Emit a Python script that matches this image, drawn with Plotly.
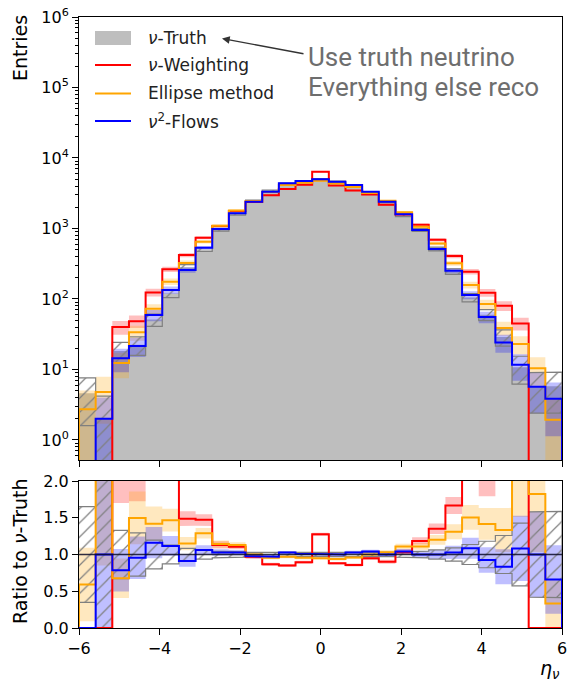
import numpy as np
import plotly.graph_objects as go

# ---- binning in eta_nu ----
N_BINS = 29
ETA_MIN, ETA_MAX = -6.0, 6.0
edges = np.linspace(ETA_MIN, ETA_MAX, N_BINS + 1)

# ---- weighted entries per bin ----
truth = [4.6, 2.0, 18.3, 22.5, 51, 120, 283, 503, 958, 1600, 2450, 3430, 4270, 4670,
         4990, 4610, 4030, 3200, 2400, 1530, 952, 512, 245, 105, 60, 29, 10.8, 5.7, 5.8]
truth_err = [3.0, 2.2, 6.0, 6.6, 10.0, 15.3, 23.5, 31.4, 43.3, 56, 69.3, 82, 91.5, 95.7,
             98.9, 95, 88.9, 79.2, 68.6, 54.8, 43.2, 31.7, 21.9, 14.3, 10.8, 7.5, 4.6, 3.3, 3.4]

nu_weighting = [0, 0, 40, 48.5, 124, 264, 421, 740, 1083, 1771, 2377, 2970, 3630, 4175,
                6362, 4057, 3454, 3040, 2165, 1576, 1127, 691, 408, 244, 123, 80, 45, 0, 0]
nu_weighting_err = [0, 0, 8.9, 9.7, 15.6, 22.7, 28.7, 38.1, 46.1, 58.9, 68.3, 76.3, 84.4, 90.5,
                    111.7, 89.2, 82.3, 77.2, 65.1, 55.6, 47.0, 36.8, 28.3, 21.9, 15.5, 12.5, 9.4, 0, 0]

ellipse = [2.73, 4.8, 12.4, 33.7, 72.4, 176, 325, 649, 1095, 1806, 2450, 3283, 4142, 4469,
           4740, 4333, 3869, 3200, 2472, 1698, 1057, 614, 321, 158, 85, 38.7, 23, 10.4, 1.94]
ellipse_err = [2.3, 3.1, 4.9, 8.1, 11.9, 18.6, 25.2, 35.7, 46.3, 59.5, 69.3, 80.2, 90.1, 93.6,
               96.4, 92.2, 87.1, 79.2, 69.6, 57.7, 45.5, 34.7, 25.1, 17.6, 12.9, 8.7, 6.7, 4.5, 1.9]

flows = [0, 2.0, 14.4, 21.5, 59.2, 134, 258, 534, 984, 1643, 2401, 3327, 4385, 4717,
         4990, 4610, 4139, 3328, 2400, 1591, 952, 512, 252, 114, 55.5, 24.2, 11.7, 5.7, 3.83]
flows_err = [0, 2.0, 5.3, 6.5, 10.8, 16.2, 22.5, 32.4, 43.9, 56.7, 68.6, 80.8, 92.7, 96.2,
             98.9, 95.1, 90.1, 80.8, 68.6, 55.8, 43.2, 31.7, 22.2, 14.9, 10.4, 6.9, 4.8, 3.3, 2.7]

legend_labels = ["<i>ν</i>-Truth", "<i>ν</i>-Weighting", "Ellipse method", "<i>ν</i><sup>2</sup>-Flows"]
y_tick_vals = [1, 10, 100, 1000, 10000, 100000, 1000000]
y_tick_text = ["10<sup>%d</sup>" % k for k in range(7)]
ratio_tick_vals = [0.0, 0.5, 1.0, 1.5, 2.0]
ratio_tick_text = ["0.0", "0.5", "1.0", "1.5", "2.0"]
x_tick_vals = [-6, -4, -2, 0, 2, 4, 6]

# ---- styling ----
W, H = 568, 682
ML, MR, MT, MB = 79, 6, 17, 54
LOG_FLOOR = 1e-3
TICK_FONT = dict(family="DejaVu Sans", size=16, color="black")
GRAY_FILL = "#bebebe"
HATCH_GRAY = "#7f7f7f"
LINE_W = 2.0
series_styles = [
    (nu_weighting, nu_weighting_err, "#ff0000", "rgba(255,0,0,0.25)"),
    (ellipse, ellipse_err, "#ffa500", "rgba(255,165,0,0.25)"),
    (flows, flows_err, "#0000ff", "rgba(0,0,255,0.25)"),
]

truth_a = np.array(truth, float)
truth_e = np.array(truth_err, float)


def step_line(vals, floor):
    v = np.where(np.asarray(vals, float) > 0, vals, floor)
    xs, ys = [edges[0]], [floor]
    for i in range(N_BINS):
        xs += [edges[i], edges[i + 1]]
        ys += [v[i], v[i]]
    xs.append(edges[-1])
    ys.append(floor)
    return xs, ys


def step_band(lo, hi, floor):
    lo = np.maximum(np.asarray(lo, float), floor)
    hi = np.maximum(np.asarray(hi, float), floor)
    xs, ys = [], []
    for i in range(N_BINS):
        xs += [edges[i], edges[i + 1]]
        ys += [hi[i], hi[i]]
    for i in reversed(range(N_BINS)):
        xs += [edges[i + 1], edges[i]]
        ys += [lo[i], lo[i]]
    return xs, ys


HATCH = dict(shape="/", fgcolor=HATCH_GRAY, bgcolor="rgba(0,0,0,0)",
             size=10, solidity=0.12, fillmode="replace")

fig = go.Figure()

# ---- main panel ----
tx, ty = step_line(truth_a, LOG_FLOOR)
fig.add_trace(go.Scatter(x=tx, y=ty, fill="toself", fillcolor=GRAY_FILL, mode="lines",
                         line=dict(width=0), showlegend=False, xaxis="x", yaxis="y"))
for vals, errs, col, band in series_styles:
    v = np.array(vals, float)
    e = np.array(errs, float)
    bx, by = step_band(v - e, v + e, LOG_FLOOR)
    fig.add_trace(go.Scatter(x=bx, y=by, fill="toself", fillcolor=band, mode="lines",
                             line=dict(width=0), showlegend=False, xaxis="x", yaxis="y"))
hx, hy = step_band(truth_a - truth_e, truth_a + truth_e, LOG_FLOOR)
fig.add_trace(go.Scatter(x=hx, y=hy, fill="toself", fillcolor="rgba(0,0,0,0)", mode="lines",
                         line=dict(width=1.2, color=HATCH_GRAY), fillpattern=HATCH,
                         showlegend=False, xaxis="x", yaxis="y"))
for vals, errs, col, band in series_styles:
    lx, ly = step_line(vals, LOG_FLOOR)
    fig.add_trace(go.Scatter(x=lx, y=ly, mode="lines", line=dict(color=col, width=LINE_W),
                             showlegend=False, xaxis="x", yaxis="y"))

# ---- ratio panel ----
for vals, errs, col, band in series_styles:
    r = np.array(vals, float) / truth_a
    re = np.array(errs, float) / truth_a
    bx, by = step_band(r - re, r + re, -1.0)
    fig.add_trace(go.Scatter(x=bx, y=by, fill="toself", fillcolor=band, mode="lines",
                             line=dict(width=0), showlegend=False, xaxis="x2", yaxis="y2"))
rel = truth_e / truth_a
hx, hy = step_band(1 - rel, 1 + rel, -1.0)
fig.add_trace(go.Scatter(x=hx, y=hy, fill="toself", fillcolor="rgba(0,0,0,0)", mode="lines",
                         line=dict(width=1.2, color=HATCH_GRAY), fillpattern=HATCH,
                         showlegend=False, xaxis="x2", yaxis="y2"))
for vals, errs, col, band in series_styles:
    r = np.array(vals, float) / truth_a
    lx, ly = step_line(r, 0.0)
    fig.add_trace(go.Scatter(x=lx, y=ly, mode="lines", line=dict(color=col, width=LINE_W),
                             showlegend=False, xaxis="x2", yaxis="y2"))

# ---- layout ----
plot_h = H - MT - MB
main_bottom = (628 - 460) / plot_h
ratio_top = (628 - 481) / plot_h

axis_common = dict(showline=True, linecolor="black", linewidth=1, mirror=True,
                   showgrid=False, zeroline=False, ticks="outside", tickcolor="black",
                   tickwidth=1, ticklen=6, tickfont=TICK_FONT)

minor_vals = [m * 10.0 ** k for k in range(-1, 6) for m in range(2, 10)]

fig.update_layout(
    width=W, height=H, margin=dict(l=ML, r=MR, t=MT, b=MB),
    paper_bgcolor="white", plot_bgcolor="white", template="none",
    font=dict(family="DejaVu Sans", size=16, color="black"),
    xaxis=dict(domain=[0, 1], anchor="y", range=[ETA_MIN, ETA_MAX], tickvals=x_tick_vals,
               showticklabels=False, **axis_common),
    yaxis=dict(domain=[main_bottom, 1], anchor="x", type="log", range=[-0.284, 6.0],
               tickvals=y_tick_vals, ticktext=y_tick_text,
               minor=dict(tickvals=minor_vals, ticks="outside", ticklen=3,
                          tickcolor="black", tickwidth=0.8),
               **axis_common),
    xaxis2=dict(domain=[0, 1], anchor="y2", range=[ETA_MIN, ETA_MAX], tickvals=x_tick_vals,
                **axis_common),
    yaxis2=dict(domain=[0, ratio_top], anchor="x2", range=[0, 2],
                tickvals=ratio_tick_vals, ticktext=ratio_tick_text, **axis_common),
)

# unity reference line in the ratio panel
fig.add_shape(type="line", xref="x2 domain", yref="y2", x0=0, x1=1, y0=1, y1=1,
              line=dict(color="rgba(10,10,40,0.85)", width=1.4))


def px_to_paper(px, py):
    return (px - ML) / (W - ML - MR), (H - MB - py) / plot_h


# legend drawn in the upper-left corner of the main panel
lx0, ly0 = px_to_paper(95, 31)
lx1, ly1 = px_to_paper(131, 45)
fig.add_shape(type="rect", xref="paper", yref="paper", x0=lx0, x1=lx1, y0=ly0, y1=ly1,
              fillcolor=GRAY_FILL, line=dict(width=0))
legend_rows = [38, 65, 93.5, 121]
for (vals, errs, col, band), row in zip(series_styles, legend_rows[1:]):
    a, yy = px_to_paper(95, row)
    b, _ = px_to_paper(131, row)
    fig.add_shape(type="line", xref="paper", yref="paper", x0=a, x1=b, y0=yy, y1=yy,
                  line=dict(color=col, width=LINE_W))
for label, row in zip(legend_labels, legend_rows):
    xx, yy = px_to_paper(146, row)
    fig.add_annotation(text=label, xref="paper", yref="paper", x=xx, y=yy,
                       xanchor="left", yanchor="middle", showarrow=False,
                       font=dict(family="DejaVu Sans", size=17, color="#222222"))

# axis titles
ex, ey = px_to_paper(20, 48)
fig.add_annotation(text="Entries", xref="paper", yref="paper", x=ex, y=ey, textangle=-90,
                   showarrow=False, xanchor="center", yanchor="middle",
                   font=dict(family="DejaVu Sans", size=19, color="black"))
rx, ry = px_to_paper(20, 551)
fig.add_annotation(text="Ratio to <i>ν</i>-Truth", xref="paper", yref="paper", x=rx, y=ry,
                   textangle=-90, showarrow=False, xanchor="center", yanchor="middle",
                   font=dict(family="DejaVu Sans", size=19, color="black"))
hx_, hy_ = px_to_paper(550, 669)
fig.add_annotation(text="<i>η<sub>ν</sub></i>", xref="paper", yref="paper", x=hx_, y=hy_,
                   showarrow=False, xanchor="center", yanchor="middle",
                   font=dict(family="DejaVu Sans", size=19, color="black"))


# note with arrow pointing at the truth entry
def dom(px, py):
    return (px - ML) / (W - ML - MR), (460 - py) / (460 - MT)


hx0, hy0 = dom(222, 38.5)
tx0, ty0 = dom(305, 54)
fig.add_annotation(x=hx0, y=hy0, xref="x domain", yref="y domain", ax=tx0, ay=ty0,
                   axref="x domain", ayref="y domain", text="", showarrow=True,
                   arrowhead=2, arrowsize=1.1, arrowwidth=1.4, arrowcolor="#333333")
for txt, row in [("Use truth neutrino", 57), ("Everything else reco", 87)]:
    xx, yy = px_to_paper(306, row)
    fig.add_annotation(text=txt, xref="paper", yref="paper", x=xx, y=yy, xanchor="left",
                       yanchor="middle", showarrow=False,
                       font=dict(family="Roboto", size=26, color="#6e6e6e"))

fig.write_html("out.html")
